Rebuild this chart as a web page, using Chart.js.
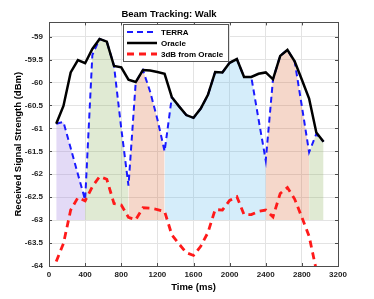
<!DOCTYPE html>
<html>
<head>
<meta charset="utf-8">
<script src="https://cdn.jsdelivr.net/npm/chart.js@4"></script>
<style>
  html, body { margin: 0; padding: 0; background: #fff; }
  #wrap { width: 374px; height: 299px; }
</style>
</head>
<body>
<div id="wrap"><canvas id="chart" width="374" height="299"></canvas></div>
<script>
// time axis (ms)
const times = [80, 160, 240, 320, 400, 480, 560, 640, 720, 800, 880, 960, 1040, 1120, 1200, 1280,
  1360, 1440, 1520, 1600, 1680, 1760, 1840, 1920, 2000, 2080, 2160, 2240, 2320, 2400, 2480, 2560,
  2640, 2720, 2800, 2880, 2960, 3040];

const terra = [-60.90, -60.86, -61.43, -62.00, -62.56, -59.40, -59.05, -59.11, -59.64, -61.00,
  -62.25, -60.00, -59.73, -60.20, -60.80, -61.50, -60.32, -60.52, -60.71, -60.77, -60.57, -60.27,
  -59.77, -59.78, -59.57, -59.49, -59.88, -59.88, -60.80, -61.70, -59.93, -59.42, -59.29, -59.54,
  -60.52, -61.52, -61.12, -61.29];

const oracle = [-60.90, -60.51, -59.78, -59.51, -59.58, -59.27, -59.05, -59.11, -59.64, -59.67,
  -59.94, -59.99, -59.73, -59.74, -59.77, -59.81, -60.32, -60.52, -60.71, -60.77, -60.57, -60.27,
  -59.77, -59.78, -59.57, -59.49, -59.88, -59.88, -59.81, -59.78, -59.93, -59.42, -59.29, -59.54,
  -59.94, -60.35, -61.09, -61.29];

const threeDb = [-63.90, -63.51, -62.78, -62.51, -62.58, -62.27, -62.05, -62.11, -62.64, -62.67,
  -62.94, -62.99, -62.73, -62.74, -62.77, -62.81, -63.32, -63.52, -63.71, -63.77, -63.57, -63.27,
  -62.77, -62.78, -62.57, -62.49, -62.88, -62.88, -62.81, -62.78, -62.93, -62.42, -62.29, -62.54,
  -62.94, -63.35, -64.09, -64.29];

// beam segments (shaded under TERRA down to -63)
const segStart = [80, 400, 880, 1280, 2400, 2880];
const segEnd = [400, 880, 1280, 2400, 2880, 3040];
const segFloor = -63;

const xTicks = [0, 400, 800, 1200, 1600, 2000, 2400, 2800, 3200];
const yTicks = [-64, -63.5, -63, -62.5, -62, -61.5, -61, -60.5, -60, -59.5, -59];

const FONT = '"Liberation Sans", Arial, Helvetica, sans-serif';
const segColors = [
  'rgba(155, 123, 223, 0.28)',
  'rgba(139, 179, 91, 0.27)',
  'rgba(219, 107, 59, 0.27)',
  'rgba(99, 187, 235, 0.27)',
  'rgba(219, 107, 59, 0.27)',
  'rgba(139, 179, 91, 0.27)'
];

function toPoints(ys) {
  return times.map((t, i) => ({ x: t, y: ys[i] }));
}

const segSets = segStart.map((s, k) => ({
  label: 'seg' + k,
  data: toPoints(terra).filter((p) => p.x >= s && p.x <= segEnd[k]),
  borderWidth: 0,
  pointRadius: 0,
  backgroundColor: segColors[k],
  fill: { value: segFloor },
  order: 10
}));

const lineSets = [
  {
    label: 'TERRA',
    data: toPoints(terra),
    borderColor: '#1a1aff',
    borderWidth: 2,
    borderDash: [6, 4],
    pointRadius: 0,
    fill: false,
    order: 3
  },
  {
    label: 'Oracle',
    data: toPoints(oracle),
    borderColor: '#000000',
    borderWidth: 2.5,
    pointRadius: 0,
    fill: false,
    order: 2
  },
  {
    label: '3dB from Oracle',
    data: toPoints(threeDb),
    borderColor: '#ff1a1a',
    borderWidth: 2.8,
    borderDash: [7, 5],
    pointRadius: 0,
    fill: false,
    order: 1
  }
];

// matlab style box, inner tick marks and the legend
const boxPlugin = {
  id: 'boxPlugin',
  afterDatasetsDraw(chart) {
    const { ctx, chartArea: a, scales } = chart;
    ctx.save();
    ctx.strokeStyle = '#4d4d4d';
    ctx.lineWidth = 1;
    ctx.strokeRect(Math.round(a.left) + 0.5, Math.round(a.top) + 0.5,
      Math.round(a.right - a.left), Math.round(a.bottom - a.top));
    ctx.beginPath();
    xTicks.forEach((v) => {
      const x = Math.round(scales.x.getPixelForValue(v)) + 0.5;
      ctx.moveTo(x, a.bottom); ctx.lineTo(x, a.bottom - 3);
      ctx.moveTo(x, a.top); ctx.lineTo(x, a.top + 3);
    });
    yTicks.forEach((v) => {
      const y = Math.round(scales.y.getPixelForValue(v)) + 0.5;
      ctx.moveTo(a.left, y); ctx.lineTo(a.left + 3, y);
      ctx.moveTo(a.right, y); ctx.lineTo(a.right - 3, y);
    });
    ctx.stroke();

    // legend
    const bx = 123.5, by = 24.5, bw = 105, bh = 37;
    ctx.fillStyle = '#fff';
    ctx.fillRect(bx, by, bw, bh);
    ctx.strokeStyle = '#555';
    ctx.strokeRect(bx, by, bw, bh);
    ctx.font = 'bold 8px ' + FONT;
    ctx.textBaseline = 'middle';
    lineSets.forEach((ds, i) => {
      const y = 32 + i * 11;
      ctx.beginPath();
      ctx.strokeStyle = ds.borderColor;
      ctx.lineWidth = ds.borderWidth;
      ctx.setLineDash(ds.borderDash || []);
      ctx.moveTo(127, y);
      ctx.lineTo(157, y);
      ctx.stroke();
      ctx.setLineDash([]);
      ctx.fillStyle = '#000';
      ctx.fillText(ds.label, 161, y + 0.5);
    });
    ctx.restore();
  }
};

new Chart(document.getElementById('chart'), {
  type: 'line',
  data: { datasets: [...lineSets, ...segSets] },
  options: {
    responsive: false,
    animation: false,
    layout: { padding: { left: 0, right: 36, top: 0, bottom: 0 } },
    plugins: {
      legend: { display: false },
      tooltip: { enabled: false },
      title: {
        display: true,
        text: 'Beam Tracking: Walk',
        color: '#000',
        font: { family: FONT, size: 9.5, weight: 'bold' },
        padding: { top: 9, bottom: 2 }
      }
    },
    scales: {
      x: {
        type: 'linear',
        min: 0,
        max: 3200,
        afterBuildTicks: (s) => { s.ticks = xTicks.map((v) => ({ value: v })); },
        afterFit: (s) => { s.height = 33; },
        ticks: {
          color: '#222',
          padding: 4,
          maxRotation: 0,
          font: { family: FONT, size: 8, weight: 'bold' },
          callback: (v) => String(v)
        },
        grid: { color: '#e3e3e3', drawTicks: false },
        border: { display: false },
        title: {
          display: true,
          text: 'Time (ms)',
          color: '#000',
          font: { family: FONT, size: 9.5, weight: 'bold' },
          padding: { top: 0, bottom: 6 }
        }
      },
      y: {
        type: 'linear',
        min: -64,
        max: -58.69,
        afterBuildTicks: (s) => { s.ticks = yTicks.map((v) => ({ value: v })); },
        afterFit: (s) => { s.width = 49; },
        ticks: {
          color: '#222',
          padding: 6,
          font: { family: FONT, size: 8, weight: 'bold' },
          callback: (v) => String(v)
        },
        grid: { color: '#e3e3e3', drawTicks: false },
        border: { display: false },
        title: {
          display: true,
          text: 'Received Signal Strength (dBm)',
          color: '#000',
          font: { family: FONT, size: 9.5, weight: 'bold' },
          padding: { top: 13, bottom: 0 }
        }
      }
    }
  },
  plugins: [boxPlugin]
});
</script>
</body>
</html>
